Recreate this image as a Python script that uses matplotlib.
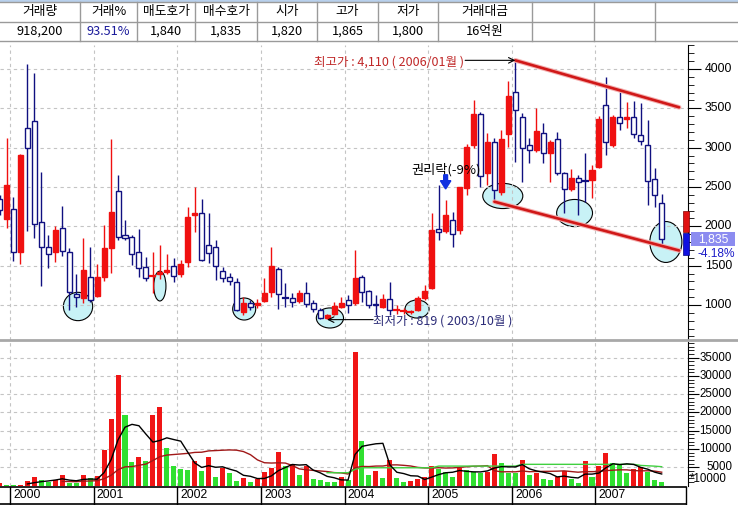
import matplotlib
matplotlib.use('Agg')
import matplotlib.pyplot as plt
import matplotlib.transforms as mtrans
from matplotlib.patches import Rectangle, Ellipse, FancyArrow
import numpy as np
import pandas as pd

plt.rcParams['font.family'] = ['Noto Sans CJK KR', 'DejaVu Sans']

# ---------------- data ----------------
start_month = '1999-11'
end_month = '2007-10'

opens = [2348, 2090, 2217, 1677, 3246, 3343, 2051, 1741, 1677, 1983,
         1670, 1140, 1086, 1352, 1118, 1360, 1729, 2449, 1886, 1868,
         1670, 1479, 1360, 1390, 1420, 1500, 1394, 1550, 2150, 2166,
         1763, 1733, 1437, 1352, 1289, 915, 1022, 1000, 1055, 1169,
         1458, 1097, 1085, 1047, 1149, 1022, 936, 835, 886, 979,
         1064, 1022, 1360, 1182, 1010, 979, 1072, 930, 920, 910,
         936, 1085, 1220, 1966, 1945, 2081, 1953, 2483, 3034, 3424,
         2674, 3076, 2433, 3170, 3704, 3394, 3034, 2970, 3183, 2928,
         3106, 2683, 2475, 2611, 2580, 2589, 2758, 3542, 3034, 3394,
         3370, 3394, 3161, 3034, 2598, 2300]
highs = [2400, 3119, 2377, 2920, 4060, 3945, 2687, 1890, 2008, 2262,
         1720, 1390, 1856, 1741, 1517, 2017, 3110, 2653, 2081, 1890,
         1966, 1614, 1678, 1763, 1650, 1600, 1572, 2250, 2504, 2347,
         2173, 1826, 1487, 1403, 1339, 1106, 1064, 1070, 1339, 1733,
         1487, 1276, 1149, 1191, 1297, 1060, 960, 880, 1042, 1106,
         1127, 1699, 1380, 1190, 1127, 1140, 1297, 1000, 960, 940,
         1110, 1250, 2166, 2525, 2335, 2186, 2504, 3050, 3606, 3450,
         3183, 3127, 3225, 3847, 4110, 3437, 3119, 3500, 3310, 3097,
         3195, 2695, 2725, 2653, 2928, 2780, 3407, 3902, 3420, 3712,
         3585, 3593, 3564, 3352, 2738, 2411]
lows = [2150, 1975, 1563, 1517, 1941, 1856, 1245, 1475, 1550, 1627,
        936, 979, 1022, 1042, 1100, 1305, 1403, 1826, 1826, 1509,
        1360, 1305, 1153, 1330, 1400, 1297, 1360, 1487, 1932, 1560,
        1531, 1318, 1297, 1254, 920, 873, 936, 960, 1042, 1098,
        945, 979, 971, 1022, 979, 915, 825, 819, 870, 958,
        898, 1000, 1042, 960, 873, 960, 873, 880, 890, 880,
        920, 1060, 1200, 1826, 1915, 1741, 1900, 2398, 3000, 2504,
        2525, 2313, 2400, 3012, 2822, 2568, 2801, 2950, 2801, 2568,
        2650, 2166, 2450, 2144, 2313, 2356, 2738, 2907, 3010, 3225,
        3250, 3119, 3034, 2271, 2250, 1780]
closes = [2208, 2525, 1670, 2907, 2992, 2026, 1741, 1644, 1953, 1691,
          1169, 1098, 1445, 1064, 1360, 1720, 2186, 1868, 1856, 1644,
          1475, 1347, 1372, 1420, 1450, 1373, 1517, 2123, 2165, 1572,
          1667, 1500, 1340, 1301, 936, 1022, 979, 1030, 1157, 1496,
          1136, 1093, 1038, 1149, 1013, 945, 840, 870, 987, 1022,
          1000, 1347, 1169, 1000, 995, 1072, 936, 940, 930, 920,
          1085, 1178, 1953, 1924, 2144, 1899, 2504, 3012, 3424, 2644,
          3076, 2462, 3106, 3661, 3479, 3000, 2970, 3212, 2936, 3068,
          2683, 2471, 2611, 2568, 2568, 2716, 3364, 3076, 3394, 3318,
          3385, 3170, 3089, 2576, 2400, 1835]
volumes = [600, 100, 80, 150, 1230, 2320, 1500, 1040, 1410, 2870,
           600, 550, 2870, 1960, 2590, 9690, 18150, 30170, 19250, 6500,
           7780, 6690, 19250, 21430, 10150, 5410, 4500, 4230, 6690, 3960,
           7780, 2320, 4860, 3500, 1310, 1960, 960, 1770, 3690, 4780,
           9150, 5230, 5960, 2870, 5320, 1770, 1500, 1040, 1000, 2400,
           1500, 36500, 12230, 2870, 4050, 2130, 6960, 2130, 1040, 1100,
           1700, 2240, 5410, 4500, 3600, 2400, 4690, 4230, 3780, 3500,
           3780, 8600, 6150, 3500, 3400, 6960, 2870, 3320, 1700, 1500,
           2400, 3960, 1700, 770, 6770, 2400, 5410, 8960, 6230, 5600,
           3500, 4500, 4960, 3770, 1500, 1040]
# long volume average line (green), from 2003-10
vol_ma_long_start = '2003-10'
vol_ma_long = [3500, 3500, 3500, 3500, 4400,
               4860, 4860, 4860, 4860, 4860, 4860, 4860, 4860, 4860, 4860, 4860,
               5320, 5320, 5320, 5320, 5320, 5320, 5320, 5320, 5320, 5320, 5320, 5320,
               5800, 5800, 5800, 5800, 5800, 5800, 5800, 5800, 5800, 5800, 5800, 5800,
               5800, 5800, 5800, 5800, 5800,
               5500, 5400, 5300, 5150]

years = ['2000', '2001', '2002', '2003', '2004', '2005', '2006', '2007']
price_ticks = [1000, 1500, 2000, 2500, 3000, 3500, 4000]
vol_ticks = [5000, 10000, 15000, 20000, 25000, 30000, 35000]

high_label = '최고가 : 4,110 ( 2006/01월 )'
high_point = ('2006-01', 4110)
low_label = '최저가 : 819 ( 2003/10월 )'
low_point = ('2003-10', 819)
event_label = '권리락(-9%)'
event_month = '2005-03'
upper_trend = [('2006-01', 4110), ('2008-01', 3513)]
lower_trend = [('2005-10', 2313), ('2008-01', 1693)]
last_price = 1835
last_change = '-4.18%'
bar_up_range = (1928, 2195)
bar_down_range = (1636, 1915)

header_labels = ['거래량', '거래%', '매도호가', '매수호가', '시가', '고가', '저가', '거래대금']
header_values = ['918,200', '93.51%', '1,840', '1,835', '1,820', '1,865', '1,800', '16억원']

# --------------- helpers ---------------
W, H = 738, 505
fig = plt.figure(figsize=(W / 100, H / 100), dpi=100)
fig.patch.set_facecolor('white')


def rect(x0, y0, x1, y1):
    return [x0 / W, 1 - y1 / H, (x1 - x0) / W, (y1 - y0) / H]


def mpos(m):
    p = pd.Period(m, freq='M')
    return (p.year - 2000) * 12 + p.month - 1 + 0.5


months = pd.period_range(start_month, end_month, freq='M')
t = np.array([(p.year - 2000) * 12 + p.month - 1 + 0.5 for p in months])
o = np.array(opens, float)
h = np.array(highs, float)
l = np.array(lows, float)
c = np.array(closes, float)
v = np.array(volumes, float)

PX = 6.97            # pixels per month
X_LEFT = -10 / PX
X_RIGHT = 678 / PX
RED = '#f01010'
NAVY = '#101080'
GRID = '#c4c4c4'
NUMFONT = ['Liberation Sans', 'DejaVu Sans']
NUMSIZE = 8.3

# --------------- header table ---------------
col_edges = [0, 80, 137, 195, 257, 317, 378, 438, 532, 594, 655, 738]
hy0, hy1, hy2 = 2, 22, 41
fig.add_artist(Rectangle((0, 1 - 2 / H), 1, 2 / H, transform=fig.transFigure,
                         facecolor='#b8d0ec', edgecolor='none'))
for yy in (hy0, hy1, hy2):
    fig.add_artist(plt.Line2D([0, 1], [1 - yy / H] * 2, color='#9a9a9a', lw=1,
                              transform=fig.transFigure))
for xe in col_edges[1:-1]:
    fig.add_artist(plt.Line2D([xe / W] * 2, [1 - hy0 / H, 1 - hy2 / H], color='#9a9a9a',
                              lw=1, transform=fig.transFigure))
for k in range(len(header_labels)):
    xc = (col_edges[k] + col_edges[k + 1]) / 2 / W
    fig.text(xc, 1 - (hy0 + hy1) / 2 / H, header_labels[k], ha='center', va='center',
             fontsize=9.2, color='black')
    fig.text(xc, 1 - (hy1 + hy2) / 2 / H, header_values[k], ha='center', va='center',
             fontsize=9.2, color='#1a1a9a' if k == 1 else 'black',
             family=['Noto Sans CJK KR', 'DejaVu Sans'])

# --------------- price panel ---------------
ax = fig.add_axes(rect(0, 45, 688, 340))
ax.set_xlim(X_LEFT, X_RIGHT)
ax.set_ylim(555, 4305)
for sp in ('left', 'top', 'bottom'):
    ax.spines[sp].set_visible(False)
ax.spines['right'].set_color('black')
ax.yaxis.tick_right()
ax.set_yticks(price_ticks)
ax.set_yticks(np.arange(600, 4301, 100), minor=True)
ax.tick_params(axis='y', which='major', length=9, direction='out', labelright=False)
ax.tick_params(axis='y', which='minor', length=4.5, direction='out')
ax.set_xticks([12 * k for k in range(len(years))])
ax.tick_params(axis='x', length=0, labelbottom=False)
ax.grid(True, which='major', color=GRID, lw=0.8, linestyle=(0, (3, 3)))

ytr = ax.get_yaxis_transform()
for pt in price_ticks:
    ax.text(732 / 688, pt, str(pt), transform=ytr, ha='right', va='center',
            fontsize=NUMSIZE + 0.5, family=NUMFONT, clip_on=False)

# ellipses (highlight zones)
ellipses = [(9.76, 981, 4.2, 360), (21.5, 1241, 1.75, 380), (33.6, 949, 3.3, 280),
            (45.9, 835, 3.9, 255), (58.4, 949, 3.45, 230), (70.7, 2386, 5.75, 320),
            (81.0, 2169, 5.15, 345), (94.1, 1801, 4.6, 520)]
for (ex, ey, ew, eh) in ellipses:
    ax.add_patch(Ellipse((ex, ey), ew, eh, facecolor='#c8f2f6', edgecolor='black',
                         lw=0.8, zorder=1))

# candles
bw = 0.72
for ti, oi, hi, li, ci in zip(t, o, h, l, c):
    up = ci >= oi
    col = RED if up else NAVY
    ax.plot([ti, ti], [li, hi], color=col, lw=1, zorder=3, solid_capstyle='butt')
    lo_b, hi_b = min(oi, ci), max(oi, ci)
    if hi_b - lo_b < 14:
        ax.plot([ti - bw / 2, ti + bw / 2], [(oi + ci) / 2] * 2, color=col, lw=1.6, zorder=4)
    else:
        ax.add_patch(Rectangle((ti - bw / 2, lo_b), bw, hi_b - lo_b,
                               facecolor=RED if up else 'white', edgecolor=col,
                               lw=1, zorder=4))

# trend lines
for line in (upper_trend, lower_trend):
    xs = [mpos(line[0][0]), mpos(line[1][0]) - 0.5]
    ys = [line[0][1], line[1][1]]
    ax.plot(xs, ys, color='#f4b0b0', lw=3.4, zorder=5, solid_capstyle='round')
    ax.plot(xs, ys, color='#d01818', lw=1.9, zorder=6, solid_capstyle='round')

# annotations
hx = mpos(high_point[0])
ax.annotate('', xy=(hx, high_point[1]), xytext=(hx - 7.2, high_point[1]),
            arrowprops=dict(arrowstyle='->', color='black', lw=0.8, shrinkA=0, shrinkB=0),
            zorder=7)
ax.text(hx - 7.4, high_point[1] - 20, high_label, ha='right', va='center', fontsize=9,
        color='#c02828', zorder=7)
lx = mpos(low_point[0])
ax.annotate('', xy=(lx, low_point[1] - 5), xytext=(lx + 6.6, low_point[1] - 5),
            arrowprops=dict(arrowstyle='->', color='black', lw=0.8, shrinkA=0, shrinkB=0),
            zorder=7)
ax.text(lx + 6.6, low_point[1] - 25, low_label, ha='left', va='center', fontsize=9,
        color='#2c2c78', zorder=7)
ex = mpos(event_month)
ax.text(ex - 4.9, 2716, event_label, ha='left', va='center', fontsize=9.5, color='black',
        zorder=7)
ax.add_patch(FancyArrow(ex, 2655, 0, -180, width=0.55, head_width=1.5, head_length=105,
                        length_includes_head=True, color='#1030e0', zorder=7))

# right-side markers
btr = mtrans.blended_transform_factory(fig.transFigure, ax.transData)
fig.add_artist(Rectangle((683 / W, bar_up_range[0]), 6 / W, bar_up_range[1] - bar_up_range[0],
                         transform=btr, facecolor='#e01010', edgecolor='#800000', lw=0.5,
                         clip_on=False))
fig.add_artist(Rectangle((683 / W, bar_down_range[0]), 6 / W,
                         bar_down_range[1] - bar_down_range[0],
                         transform=btr, facecolor='#1010e0', edgecolor='#000080', lw=0.5,
                         clip_on=False))
fig.add_artist(Rectangle((691 / W, last_price - 90), 44 / W, 180, transform=btr,
                         facecolor='#8c8cf0', edgecolor='none', clip_on=False))
fig.text(713 / W, last_price, f'{last_price:,}', transform=btr, ha='center', va='center',
         color='white', fontsize=NUMSIZE + 0.5, family=NUMFONT)
fig.text(716 / W, last_price - 187, last_change, transform=btr, ha='center', va='center',
         color='#1c1cc8', fontsize=NUMSIZE + 0.3, family=NUMFONT)

# separator
fig.add_artist(plt.Line2D([0, 1], [1 - 340 / H] * 2, color='#a8a8a8', lw=2,
                          transform=fig.transFigure))

# --------------- volume panel ---------------
vax = fig.add_axes(rect(0, 341.5, 688, 485.5))
vax.set_xlim(X_LEFT, X_RIGHT)
vax.set_ylim(0, 39450)
for sp in ('left', 'top', 'bottom'):
    vax.spines[sp].set_visible(False)
vax.yaxis.tick_right()
vax.set_yticks(vol_ticks)
vax.set_yticks(np.arange(1000, 39001, 1000), minor=True)
vax.tick_params(axis='y', which='major', length=8, direction='out', labelright=False)
vax.tick_params(axis='y', which='minor', length=4, direction='out')
vax.set_xticks([12 * k for k in range(len(years))])
vax.tick_params(axis='x', length=0, labelbottom=False)
vax.grid(True, which='major', color=GRID, lw=0.8, linestyle=(0, (3, 3)))

prev = np.concatenate([[0], v[:-1]])
vcols = np.where(v > prev, '#f01515', '#30e030')
vax.bar(t, v, width=bw, color=vcols, zorder=3)

vs = pd.Series(v)
ma_short = vs.rolling(5, min_periods=5).mean()
ma_mid = vs.rolling(20, min_periods=10).mean()
vax.plot(t, ma_short, color='black', lw=1, zorder=5)
vax.plot(t, ma_mid, color='#a01818', lw=1, zorder=4)
lt0 = mpos(vol_ma_long_start)
vax.plot(lt0 + np.arange(len(vol_ma_long)), vol_ma_long, color='#40d040', lw=1, zorder=4)

vtr = vax.get_yaxis_transform()
for vt in vol_ticks:
    vax.text(732 / 688, vt, str(vt), transform=vtr, ha='right', va='center',
             fontsize=NUMSIZE, family=NUMFONT, clip_on=False)
vax.text(690 / 688, 1750, '*10000', transform=vtr, ha='left', va='center',
         fontsize=NUMSIZE, family=NUMFONT, clip_on=False)

# --------------- x label row ---------------
xax = fig.add_axes(rect(0, 487, 688, 504))
xax.set_xlim(X_LEFT, X_RIGHT)
xax.set_ylim(0, 1)
xax.axis('off')
xax.plot([X_LEFT, 676 / PX], [1, 1], color='black', lw=1.2, clip_on=False)
xax.plot([X_LEFT, 676 / PX], [0, 0], color='black', lw=1.2, clip_on=False)
for k, yl in enumerate(years):
    xax.plot([12 * k, 12 * k], [0, 1], color='black', lw=1, clip_on=False)
    xax.text(12 * k + 0.45, 0.5, yl, ha='left', va='center', fontsize=NUMSIZE + 0.5,
             family=NUMFONT)
xax.plot([676 / PX] * 2, [0, 1], color='black', lw=1, clip_on=False)

fig.savefig('out.png', dpi=100)
